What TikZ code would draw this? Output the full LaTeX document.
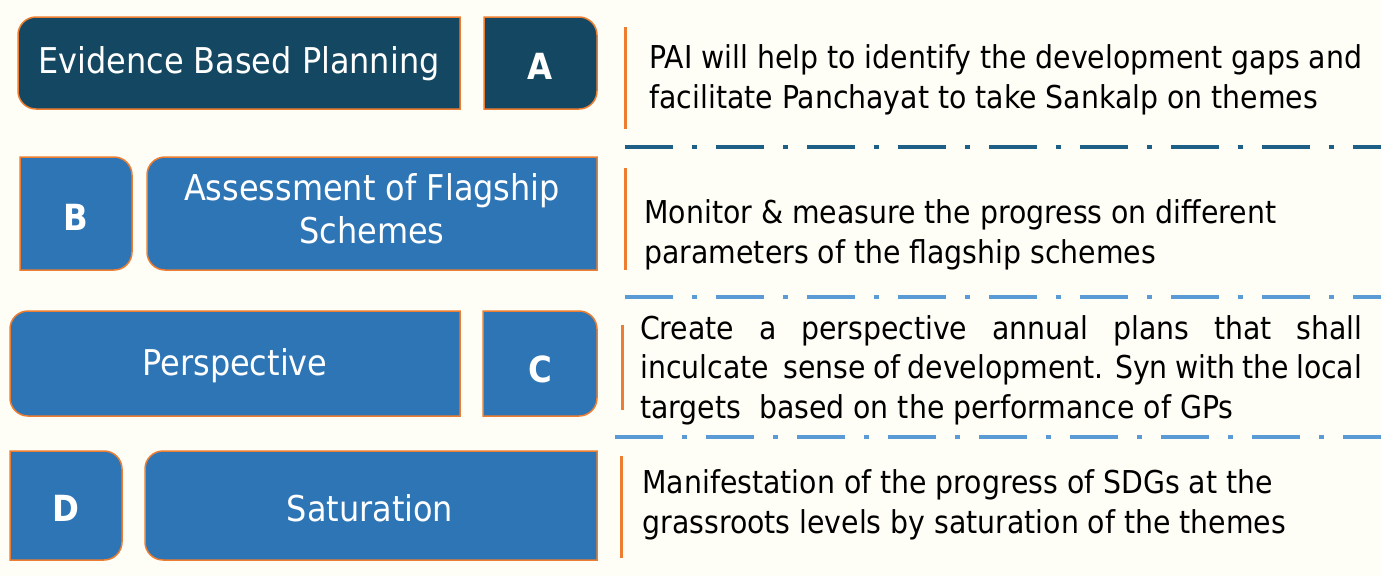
\documentclass[tikz,border=0pt]{standalone}
\usepackage{fontspec}
\setmainfont{DejaVu Sans Condensed}
\usetikzlibrary{positioning}
\definecolor{bg}{HTML}{FEFEF6}
\definecolor{darkteal}{HTML}{144862}
\definecolor{midblue}{HTML}{2E75B6}
\definecolor{edge}{HTML}{ED7D31}
\definecolor{sepdark}{HTML}{1D5F85}
\definecolor{seplight}{HTML}{5B9BD5}
\tikzset{
  boxline/.style={draw=edge, line width=1.5pt},
  boxtext/.style={text=white, font=\fontsize{35.5}{43}\selectfont, align=center},
  lettertext/.style={text=white, font=\fontsize{36}{40}\selectfont\bfseries},
  desc/.style={text=black, font=\fontsize{31.5}{39.5}\selectfont, align=left, anchor=west},
  bar/.style={draw=edge, line width=3pt},
  sep/.style={line width=4.5pt, dash pattern=on 48pt off 19pt on 5pt off 19pt}
}
\begin{document}
\begin{tikzpicture}[x=1pt,y=-1pt]
\fill[bg] (0,0) rectangle (1381,576);
\useasboundingbox (0,0) rectangle (1381,576);
% Row A
\draw[boxline,fill=darkteal] (460,17) [rounded corners=18pt] -- (18,17) -- (18,109) [sharp corners] -- (460,109) -- cycle;
\node[boxtext] (ebp) at (239,64) {Evidence Based Planning};
\draw[boxline,fill=darkteal] (484,109) -- (484,17) [rounded corners=18pt] -- (597,17) -- (597,109) [sharp corners] -- cycle;
\node[lettertext] (la) at (540,66) {A};
\coordinate (ba1) at (625,27); \coordinate (ba2) at (625,129);
\draw[bar] (ba1) -- (ba2);
\node[desc] (ta) at (646,80) {PAI will help to identify the development gaps and\\facilitate Panchayat to take Sankalp on themes};
\coordinate (s1a) at (625,147); \coordinate (s1b) at (1381,147);
\draw[sep,draw=sepdark] (s1a) -- (s1b);
% Row B
\draw[boxline,fill=midblue] (20,270) -- (20,157) [rounded corners=18pt] -- (132,157) -- (132,270) [sharp corners] -- cycle;
\node[lettertext] (lb) at (76,217) {B};
\draw[boxline,fill=midblue] (597,157) [rounded corners=18pt] -- (147,157) -- (147,270) [sharp corners] -- (597,270) -- cycle;
\node[boxtext] (afs) at (372,209) {Assessment of Flagship\\Schemes};
\coordinate (bb1) at (625,168); \coordinate (bb2) at (625,270);
\draw[bar] (bb1) -- (bb2);
\node[desc] (tb) at (641,235) {Monitor \& measure the progress on different\\parameters of the flagship schemes};
\coordinate (s2a) at (625,297); \coordinate (s2b) at (1381,297);
\draw[sep,draw=seplight] (s2a) -- (s2b);
% Row C
\draw[boxline,fill=midblue] (460,311) [rounded corners=18pt] -- (10,311) -- (10,416) [sharp corners] -- (460,416) -- cycle;
\node[boxtext] (per) at (235,366) {Perspective};
\draw[boxline,fill=midblue] (483,416) -- (483,311) [rounded corners=18pt] -- (597,311) -- (597,416) [sharp corners] -- cycle;
\node[lettertext] (lc) at (540,369) {C};
\coordinate (bc1) at (622,325); \coordinate (bc2) at (622,410);
\draw[bar] (bc1) -- (bc2);
\node[desc, align=justify, text width=722pt, inner sep=0pt] (tc) at (640,370) {\hbadness=10000 Create a perspective annual plans that shall\linebreak inculcate\ \ sense of development. Syn with the local\linebreak targets\ \ based on the performance of GPs};
\coordinate (s3a) at (615,437); \coordinate (s3b) at (1381,437);
\draw[sep,draw=seplight] (s3a) -- (s3b);
% Row D
\draw[boxline,fill=midblue] (10,560) -- (10,451) [rounded corners=18pt] -- (122,451) -- (122,560) [sharp corners] -- cycle;
\node[lettertext] (ld) at (66,508) {D};
\draw[boxline,fill=midblue] (597,451) [rounded corners=18pt] -- (145,451) -- (145,560) [sharp corners] -- (597,560) -- cycle;
\node[boxtext] (sat) at (370,508) {Saturation};
\coordinate (bd1) at (621,456); \coordinate (bd2) at (621,558);
\draw[bar] (bd1) -- (bd2);
\node[desc] (td) at (639,505) {Manifestation of the progress of SDGs at the\\grassroots levels by saturation of the themes};
\end{tikzpicture}
\end{document}
